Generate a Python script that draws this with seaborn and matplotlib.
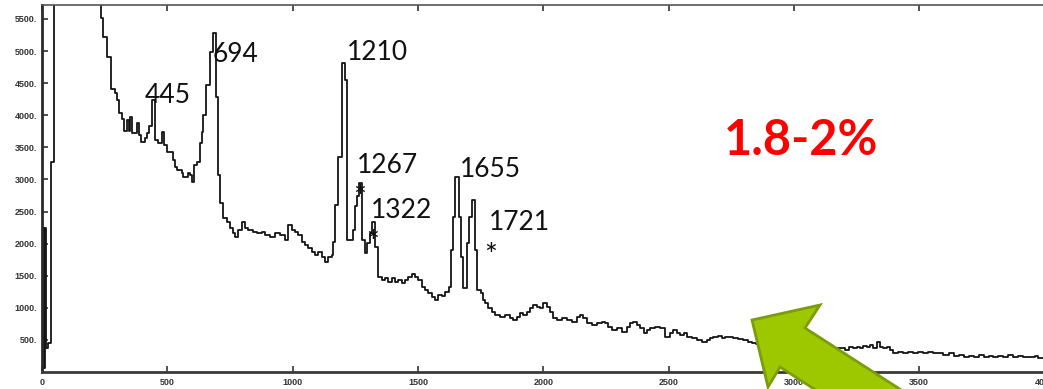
import matplotlib
matplotlib.use("Agg")
import matplotlib.pyplot as plt
from matplotlib.patches import Polygon
import seaborn as sns
import pandas as pd

# Raman shift (cm-1) where each step of the spectrum begins, and the step height
shift = [0, 3, 6, 9, 12, 15, 25, 36, 48, 235, 245, 261, 275, 291, 301, 309, 318, 327,
         338, 347, 351, 358, 378, 387, 395, 411, 418, 428, 438, 451, 464, 478, 487,
         497, 521, 531, 537, 557, 564, 584, 590, 600, 608, 617, 630, 637, 644, 654,
         670, 684, 696, 704, 712, 722, 737, 750, 761, 770, 783, 797, 810, 823, 843,
         857, 877, 890, 910, 930, 950, 970, 983, 996, 1010, 1023, 1036, 1049, 1063,
         1076, 1089, 1102, 1116, 1129, 1142, 1156, 1162, 1169, 1182, 1198, 1210,
         1218, 1240, 1249, 1258, 1264, 1276, 1289, 1298, 1309, 1316, 1328, 1340,
         1355, 1369, 1382, 1396, 1409, 1422, 1436, 1449, 1462, 1476, 1489, 1502,
         1516, 1529, 1542, 1556, 1569, 1582, 1595, 1609, 1622, 1631, 1639, 1648,
         1662, 1670, 1679, 1695, 1705, 1715, 1728, 1737, 1750, 1760, 1768, 1781,
         1794, 1807, 1827, 1847, 1867, 1880, 1894, 1907, 1920, 1934, 1947, 1960,
         1974, 1987, 2000, 2014, 2027, 2040, 2054, 2074, 2094, 2114, 2134, 2147,
         2160, 2174, 2194, 2214, 2234, 2247, 2260, 2274, 2294, 2314, 2334, 2347,
         2360, 2374, 2387, 2400, 2414, 2427, 2447, 2466, 2486, 2506, 2519, 2533,
         2546, 2560, 2573, 2592, 2612, 2632, 2652, 2665, 2679, 2699, 2712, 2725,
         2745, 2759, 2778, 2798, 2818, 2832, 2850, 2870, 2890, 2910, 2930, 2950,
         2970, 2990, 3010, 3030, 3050, 3070, 3090, 3110, 3130, 3150, 3170, 3191,
         3204, 3218, 3237, 3250, 3264, 3277, 3290, 3304, 3317, 3330, 3344, 3357,
         3370, 3384, 3397, 3417, 3437, 3457, 3477, 3497, 3517, 3537, 3557, 3577,
         3597, 3617, 3637, 3657, 3677, 3697, 3717, 3737, 3757, 3777, 3796, 3816,
         3836, 3856, 3876, 3896, 3916, 3943, 3963, 3976, 4000]

intensity = [2240, 60, 2240, 60, 2240, 370, 450, 3270, 6500, 5510, 5224, 4903, 4405,
             4352, 4238, 4040, 3937, 3755, 3925, 3755, 3978, 3718, 3884, 3692, 3588,
             3640, 3718, 3833, 4238, 3615, 3563, 3744, 3537, 3432, 3303, 3199, 3147,
             3105, 3043, 3095, 3069, 2965, 3225, 3277, 3563, 3744, 4004, 4472, 4990,
             5277, 4290, 3069, 2632, 2394, 2342, 2238, 2160, 2108, 2212, 2342, 2238,
             2212, 2186, 2160, 2186, 2134, 2108, 2160, 2134, 2057, 2290, 2212, 2186,
             2134, 2030, 1979, 1927, 1875, 1823, 1875, 1797, 1719, 1797, 1823, 2030,
             2602, 3354, 4818, 4549, 2057, 2212, 2592, 2748, 2940, 2057, 1849, 2005,
             2160, 2342, 1953, 1485, 1433, 1459, 1407, 1459, 1407, 1433, 1381, 1433,
             1485, 1527, 1485, 1433, 1329, 1277, 1226, 1174, 1122, 1200, 1180, 1252,
             1329, 1901, 2420, 3043, 2420, 1797, 1305, 2005, 2420, 2680, 1901, 1277,
             1226, 1122, 1070, 992, 940, 888, 862, 888, 836, 810, 862, 914, 888, 940,
             992, 1044, 1018, 992, 1070, 1018, 940, 836, 810, 836, 810, 784, 862, 888,
             836, 758, 732, 758, 784, 758, 706, 654, 680, 628, 706, 758, 784, 732, 680,
             602, 654, 680, 706, 680, 550, 602, 654, 602, 576, 602, 550, 524, 498, 472,
             498, 524, 550, 560, 524, 550, 540, 524, 508, 498, 472, 446, 430, 445, 420,
             410, 425, 400, 395, 410, 390, 380, 395, 375, 370, 385, 365, 355, 370, 369,
             342, 384, 369, 394, 369, 405, 384, 420, 369, 472, 394, 369, 394, 342, 301,
             316, 290, 316, 301, 316, 290, 316, 301, 290, 265, 290, 250, 265, 228, 250,
             228, 265, 228, 250, 228, 250, 228, 265, 240, 250, 228, 240, 250, 213, 213]

# Annotated bands
peak_labels = ["445", "694", "1210", "1267", "1322", "1655", "1721"]
starred_bands = [1267, 1322, 1721]
concentration = "1.8-2%"

x_ticks = [0, 500, 1000, 1500, 2000, 2500, 3000, 3500, 4000]
y_ticks = [500, 1000, 1500, 2000, 2500, 3000, 3500, 4000, 4500, 5000, 5500]

sns.set_style("white")
plt.rcParams["font.family"] = ["Lato", "DejaVu Sans"]

W, H = 1043, 389
fig = plt.figure(figsize=(W / 100, H / 100), dpi=100)
ax = fig.add_axes([42 / W, 17 / H, (1044.5 - 42) / W, 367 / H])

spectrum = pd.DataFrame({"shift": shift, "intensity": intensity})
sns.lineplot(data=spectrum, x="shift", y="intensity", ax=ax, drawstyle="steps-post",
             color="#151515", linewidth=1.3, estimator=None, sort=False)

ax.set_xlim(0, 4000)
ax.set_ylim(0, 5718)
ax.set_xlabel("")
ax.set_ylabel("")

ax.set_xticks(x_ticks)
ax.set_xticklabels([str(v) for v in x_ticks])
ax.set_yticks(y_ticks)
ax.set_yticklabels([f"{v}." for v in y_ticks])
ax.tick_params(axis="both", direction="in", length=4, width=1.2, color="#333333",
               labelsize=6.5, labelcolor="#333333", top=True, left=True, bottom=True)
ax.tick_params(axis="x", pad=4)
ax.tick_params(axis="y", pad=3.5)
for lab in ax.get_xticklabels() + ax.get_yticklabels():
    lab.set_fontfamily(["Liberation Sans", "DejaVu Sans"])
    lab.set_fontweight("bold")

ax.spines["left"].set_linewidth(2.0)
ax.spines["left"].set_color("#2a2a2a")
ax.spines["bottom"].set_linewidth(2.0)
ax.spines["bottom"].set_color("#3a3a3a")
ax.spines["top"].set_linewidth(1.2)
ax.spines["top"].set_color("#555555")
ax.spines["right"].set_visible(False)

# Band labels, placed just above/right of each band
label_anchor = [(411, 4191), (682, 4830), (1217, 4861), (1257, 3100),
                (1313, 2399), (1668, 3038), (1784, 2212)]
for text, (lx, ly) in zip(peak_labels, label_anchor):
    ax.text(lx, ly, text, fontsize=19, fontweight="normal", color="#111111",
            ha="left", va="baseline")

star_anchor = [(1267, 2704), (1321, 2004), (1792, 1801)]
for band, (sx, sy) in zip(starred_bands, star_anchor):
    ax.text(sx, sy, "*", fontsize=22, color="#111111", ha="center", va="center")

fig.text(801 / W, 1 - 155 / H, concentration, fontsize=35, fontweight="bold",
         color="#ff0000", ha="center", va="baseline")

# Green arrow pointing up-left at the weak high-wavenumber tail
arrow_px = [(752, 320), (820, 305), (805, 328), (985, 444), (960, 483),
            (780, 367), (768, 387)]
arrow = Polygon([(x / W, 1 - y / H) for x, y in arrow_px], closed=True,
                transform=fig.transFigure, facecolor="#9dc800", edgecolor="#7c9c0a",
                linewidth=2.0, zorder=20, joinstyle="miter")
fig.patches.append(arrow)

fig.savefig("out.png", dpi=100)
